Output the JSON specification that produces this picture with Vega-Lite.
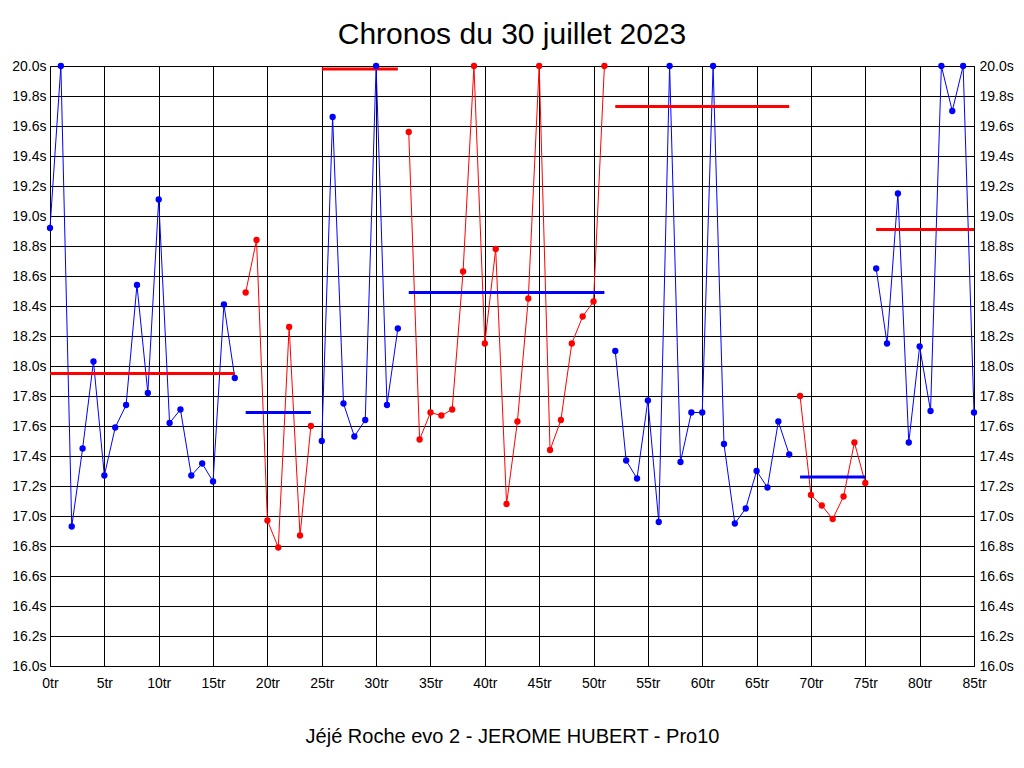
{
  "$schema": "https://vega.github.io/schema/vega-lite/v6.json",
  "width": 924,
  "height": 600,
  "autosize": "none",
  "padding": {"left": 50, "top": 66, "right": 50, "bottom": 102},
  "background": "white",
  "title": {
    "text": "Chronos du 30 juillet 2023",
    "font": "Liberation Sans",
    "fontSize": 30,
    "fontWeight": "normal",
    "color": "black",
    "anchor": "middle",
    "frame": "group",
    "offset": 9
  },
  "config": {
    "view": {"stroke": "black", "strokeWidth": 1},
    "axis": {
      "domain": false,
      "ticks": false,
      "gridColor": "black",
      "gridOpacity": 1,
      "gridWidth": 1,
      "labelColor": "black",
      "labelFont": "Liberation Sans Narrow, Liberation Sans",
      "labelFontSize": 14
    }
  },
  "datasets": {
    "laps": [
      {"lap": 0, "t": 18.92, "seg": 1, "series": "bleu"},
      {"lap": 1, "t": 20.0, "seg": 1, "series": "bleu"},
      {"lap": 2, "t": 16.93, "seg": 1, "series": "bleu"},
      {"lap": 3, "t": 17.45, "seg": 1, "series": "bleu"},
      {"lap": 4, "t": 18.03, "seg": 1, "series": "bleu"},
      {"lap": 5, "t": 17.27, "seg": 1, "series": "bleu"},
      {"lap": 6, "t": 17.59, "seg": 1, "series": "bleu"},
      {"lap": 7, "t": 17.74, "seg": 1, "series": "bleu"},
      {"lap": 8, "t": 18.54, "seg": 1, "series": "bleu"},
      {"lap": 9, "t": 17.82, "seg": 1, "series": "bleu"},
      {"lap": 10, "t": 19.11, "seg": 1, "series": "bleu"},
      {"lap": 11, "t": 17.62, "seg": 1, "series": "bleu"},
      {"lap": 12, "t": 17.71, "seg": 1, "series": "bleu"},
      {"lap": 13, "t": 17.27, "seg": 1, "series": "bleu"},
      {"lap": 14, "t": 17.35, "seg": 1, "series": "bleu"},
      {"lap": 15, "t": 17.23, "seg": 1, "series": "bleu"},
      {"lap": 16, "t": 18.41, "seg": 1, "series": "bleu"},
      {"lap": 17, "t": 17.92, "seg": 1, "series": "bleu"},
      {"lap": 18, "t": 18.49, "seg": 2, "series": "rouge"},
      {"lap": 19, "t": 18.84, "seg": 2, "series": "rouge"},
      {"lap": 20, "t": 16.97, "seg": 2, "series": "rouge"},
      {"lap": 21, "t": 16.79, "seg": 2, "series": "rouge"},
      {"lap": 22, "t": 18.26, "seg": 2, "series": "rouge"},
      {"lap": 23, "t": 16.87, "seg": 2, "series": "rouge"},
      {"lap": 24, "t": 17.60, "seg": 2, "series": "rouge"},
      {"lap": 25, "t": 17.50, "seg": 3, "series": "bleu"},
      {"lap": 26, "t": 19.66, "seg": 3, "series": "bleu"},
      {"lap": 27, "t": 17.75, "seg": 3, "series": "bleu"},
      {"lap": 28, "t": 17.53, "seg": 3, "series": "bleu"},
      {"lap": 29, "t": 17.64, "seg": 3, "series": "bleu"},
      {"lap": 30, "t": 20.0, "seg": 3, "series": "bleu"},
      {"lap": 31, "t": 17.74, "seg": 3, "series": "bleu"},
      {"lap": 32, "t": 18.25, "seg": 3, "series": "bleu"},
      {"lap": 33, "t": 19.56, "seg": 4, "series": "rouge"},
      {"lap": 34, "t": 17.51, "seg": 4, "series": "rouge"},
      {"lap": 35, "t": 17.69, "seg": 4, "series": "rouge"},
      {"lap": 36, "t": 17.67, "seg": 4, "series": "rouge"},
      {"lap": 37, "t": 17.71, "seg": 4, "series": "rouge"},
      {"lap": 38, "t": 18.63, "seg": 4, "series": "rouge"},
      {"lap": 39, "t": 20.0, "seg": 4, "series": "rouge"},
      {"lap": 40, "t": 18.15, "seg": 4, "series": "rouge"},
      {"lap": 41, "t": 18.78, "seg": 4, "series": "rouge"},
      {"lap": 42, "t": 17.08, "seg": 4, "series": "rouge"},
      {"lap": 43, "t": 17.63, "seg": 4, "series": "rouge"},
      {"lap": 44, "t": 18.45, "seg": 4, "series": "rouge"},
      {"lap": 45, "t": 20.0, "seg": 4, "series": "rouge"},
      {"lap": 46, "t": 17.44, "seg": 4, "series": "rouge"},
      {"lap": 47, "t": 17.64, "seg": 4, "series": "rouge"},
      {"lap": 48, "t": 18.15, "seg": 4, "series": "rouge"},
      {"lap": 49, "t": 18.33, "seg": 4, "series": "rouge"},
      {"lap": 50, "t": 18.43, "seg": 4, "series": "rouge"},
      {"lap": 51, "t": 20.0, "seg": 4, "series": "rouge"},
      {"lap": 52, "t": 18.10, "seg": 5, "series": "bleu"},
      {"lap": 53, "t": 17.37, "seg": 5, "series": "bleu"},
      {"lap": 54, "t": 17.25, "seg": 5, "series": "bleu"},
      {"lap": 55, "t": 17.77, "seg": 5, "series": "bleu"},
      {"lap": 56, "t": 16.96, "seg": 5, "series": "bleu"},
      {"lap": 57, "t": 20.0, "seg": 5, "series": "bleu"},
      {"lap": 58, "t": 17.36, "seg": 5, "series": "bleu"},
      {"lap": 59, "t": 17.69, "seg": 5, "series": "bleu"},
      {"lap": 60, "t": 17.69, "seg": 5, "series": "bleu"},
      {"lap": 61, "t": 20.0, "seg": 5, "series": "bleu"},
      {"lap": 62, "t": 17.48, "seg": 5, "series": "bleu"},
      {"lap": 63, "t": 16.95, "seg": 5, "series": "bleu"},
      {"lap": 64, "t": 17.05, "seg": 5, "series": "bleu"},
      {"lap": 65, "t": 17.30, "seg": 5, "series": "bleu"},
      {"lap": 66, "t": 17.19, "seg": 5, "series": "bleu"},
      {"lap": 67, "t": 17.63, "seg": 5, "series": "bleu"},
      {"lap": 68, "t": 17.41, "seg": 5, "series": "bleu"},
      {"lap": 69, "t": 17.80, "seg": 6, "series": "rouge"},
      {"lap": 70, "t": 17.14, "seg": 6, "series": "rouge"},
      {"lap": 71, "t": 17.07, "seg": 6, "series": "rouge"},
      {"lap": 72, "t": 16.98, "seg": 6, "series": "rouge"},
      {"lap": 73, "t": 17.13, "seg": 6, "series": "rouge"},
      {"lap": 74, "t": 17.49, "seg": 6, "series": "rouge"},
      {"lap": 75, "t": 17.22, "seg": 6, "series": "rouge"},
      {"lap": 76, "t": 18.65, "seg": 7, "series": "bleu"},
      {"lap": 77, "t": 18.15, "seg": 7, "series": "bleu"},
      {"lap": 78, "t": 19.15, "seg": 7, "series": "bleu"},
      {"lap": 79, "t": 17.49, "seg": 7, "series": "bleu"},
      {"lap": 80, "t": 18.13, "seg": 7, "series": "bleu"},
      {"lap": 81, "t": 17.70, "seg": 7, "series": "bleu"},
      {"lap": 82, "t": 20.0, "seg": 7, "series": "bleu"},
      {"lap": 83, "t": 19.70, "seg": 7, "series": "bleu"},
      {"lap": 84, "t": 20.0, "seg": 7, "series": "bleu"},
      {"lap": 85, "t": 17.69, "seg": 7, "series": "bleu"}
    ],
    "avgs": [
      {"seg": 1, "from": 0, "to": 17, "avg": 17.95, "series": "rouge"},
      {"seg": 2, "from": 18, "to": 24, "avg": 17.69, "series": "bleu"},
      {"seg": 3, "from": 25, "to": 32, "avg": 19.98, "series": "rouge"},
      {"seg": 4, "from": 33, "to": 51, "avg": 18.49, "series": "bleu"},
      {"seg": 5, "from": 52, "to": 68, "avg": 19.73, "series": "rouge"},
      {"seg": 6, "from": 69, "to": 75, "avg": 17.26, "series": "bleu"},
      {"seg": 7, "from": 76, "to": 85, "avg": 18.91, "series": "rouge"}
    ]
  },
  "layer": [
    {
      "data": {"name": "laps"},
      "mark": {"type": "line", "strokeWidth": 1},
      "encoding": {
        "x": {
          "field": "lap",
          "type": "quantitative",
          "scale": {"domain": [0, 85], "nice": false, "zero": false},
          "axis": {
            "values": [0, 5, 10, 15, 20, 25, 30, 35, 40, 45, 50, 55, 60, 65, 70, 75, 80, 85],
            "labelExpr": "datum.value + 'tr'",
            "labelPadding": 10,
            "labelFlush": false,
            "grid": true,
            "title": "Jéjé Roche evo 2 - JEROME HUBERT - Pro10",
            "titleFont": "Liberation Sans",
            "titleFontSize": 20,
            "titleFontWeight": "normal",
            "titleColor": "black",
            "titlePadding": 36
          }
        },
        "y": {
          "field": "t",
          "type": "quantitative",
          "scale": {"domain": [16, 20], "nice": false, "zero": false},
          "axis": {
            "orient": "left",
            "values": [16.0, 16.2, 16.4, 16.6, 16.8, 17.0, 17.2, 17.4, 17.6, 17.8, 18.0, 18.2, 18.4, 18.6, 18.8, 19.0, 19.2, 19.4, 19.6, 19.8, 20.0],
            "labelExpr": "format(datum.value, '.1f') + 's'",
            "labelPadding": 4,
            "labelFlush": false,
            "grid": true,
            "title": null
          }
        },
        "detail": {"field": "seg", "type": "nominal"},
        "color": {
          "field": "series",
          "type": "nominal",
          "scale": {"domain": ["bleu", "rouge"], "range": ["#0000ff", "#ff0000"]},
          "legend": null
        }
      }
    },
    {
      "data": {"name": "avgs"},
      "mark": {"type": "rule", "strokeWidth": 3},
      "encoding": {
        "x": {"field": "from", "type": "quantitative", "axis": null},
        "x2": {"field": "to"},
        "y": {
          "field": "avg",
          "type": "quantitative",
          "axis": {
            "orient": "right",
            "values": [16.0, 16.2, 16.4, 16.6, 16.8, 17.0, 17.2, 17.4, 17.6, 17.8, 18.0, 18.2, 18.4, 18.6, 18.8, 19.0, 19.2, 19.4, 19.6, 19.8, 20.0],
            "labelExpr": "format(datum.value, '.1f') + 's'",
            "labelPadding": 5,
            "labelFlush": false,
            "grid": false,
            "title": null
          }
        },
        "color": {"field": "series", "type": "nominal", "legend": null}
      }
    },
    {
      "data": {"name": "laps"},
      "mark": {"type": "point", "shape": "circle", "filled": true, "opacity": 1, "size": 40},
      "encoding": {
        "x": {"field": "lap", "type": "quantitative", "axis": null},
        "y": {"field": "t", "type": "quantitative", "axis": null},
        "color": {"field": "series", "type": "nominal", "legend": null}
      }
    }
  ],
  "resolve": {"axis": {"x": "independent", "y": "independent"}}
}
